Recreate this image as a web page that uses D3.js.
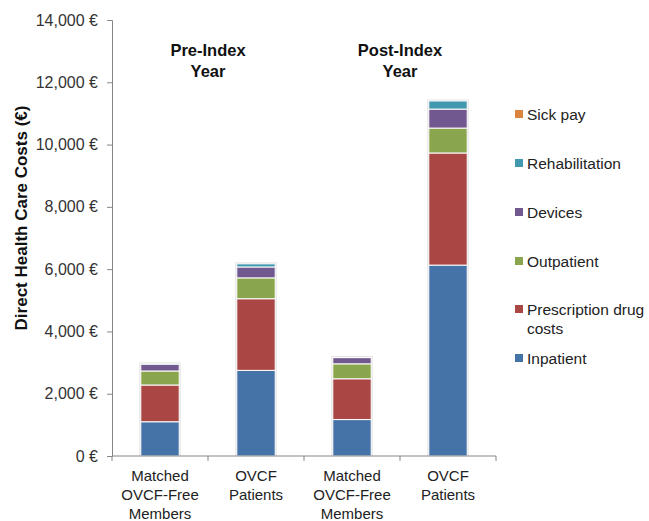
<!DOCTYPE html>
<html>
<head>
<meta charset="utf-8">
<script src="https://cdn.jsdelivr.net/npm/d3@7"></script>
<style>
  body { margin: 0; background: #fff; }
  svg { font-family: "Liberation Sans", Arial, sans-serif; }
</style>
</head>
<body>
<svg id="chart" width="649" height="521"></svg>
<script>
// categories (x axis), each label split into lines
const groups = ["g1", "g2", "g3", "g4"];
const groupLabels = [
  ["Matched", "OVCF-Free", "Members"],
  ["OVCF", "Patients"],
  ["Matched", "OVCF-Free", "Members"],
  ["OVCF", "Patients"]
];

// series, bottom to top
const seriesNames = ["Inpatient", "Prescription drug costs", "Outpatient", "Devices", "Rehabilitation", "Sick pay"];
const seriesColors = ["#4572A7", "#AA4643", "#89A54E", "#71588F", "#4198AF", "#DB843D"];

const inpatient    = [1100, 2750, 1170, 6130];
const prescription = [1180, 2300, 1310, 3600];
const outpatient   = [450, 670, 480, 800];
const devices      = [220, 350, 200, 610];
const rehab        = [10, 100, 5, 260];
const sickPay      = [0, 0, 0, 0];

const yTicks = [0, 2000, 4000, 6000, 8000, 10000, 12000, 14000];
const periodLabels = [["Pre-Index", "Year"], ["Post-Index", "Year"]];

const svg = d3.select("#chart");

const margin = {left: 112, right: 153, top: 20, bottom: 65};
const width = 649 - margin.left - margin.right,
      height = 521 - margin.top - margin.bottom;

const g = svg.append("g").attr("transform", `translate(${margin.left},${margin.top})`);

const x = d3.scaleBand().domain(groups).range([0, width]).paddingInner(0.6).paddingOuter(0.3);
const y = d3.scaleLinear().domain([0, 14000]).range([height, 0]);

// build table for the stack
const table = groups.map((k, i) => ({
  key: k,
  "Inpatient": inpatient[i],
  "Prescription drug costs": prescription[i],
  "Outpatient": outpatient[i],
  "Devices": devices[i],
  "Rehabilitation": rehab[i],
  "Sick pay": sickPay[i]
}));

const stacked = d3.stack().keys(seriesNames)(table);

// light shadow behind each bar
const totals = table.map(d => d3.sum(seriesNames, s => d[s]));
g.selectAll(".shadow")
  .data(groups)
  .join("rect")
  .attr("x", d => x(d) - 1.5)
  .attr("y", (d, i) => y(totals[i]) - 1.5)
  .attr("width", x.bandwidth() + 3)
  .attr("height", (d, i) => y(0) - y(totals[i]) + 1.5)
  .attr("fill", "#e4e4e4");

g.selectAll(".layer")
  .data(stacked)
  .join("g")
  .attr("fill", (d, i) => seriesColors[i])
  .selectAll("rect")
  .data(d => d.map((v, i) => ({v, k: groups[i]})))
  .join("rect")
  .filter(d => d.v[1] > d.v[0])
  .attr("x", d => x(d.k))
  .attr("y", d => y(d.v[1]))
  .attr("width", x.bandwidth())
  .attr("height", d => y(d.v[0]) - y(d.v[1]))
  .attr("stroke", "#fff")
  .attr("stroke-width", 1);

// y axis
const yAxis = g.append("g")
  .call(d3.axisLeft(y).tickValues(yTicks).tickSize(5).tickPadding(9)
    .tickFormat(d => d3.format(",")(d) + " €"));
yAxis.select(".domain").attr("stroke", "#868686");
yAxis.selectAll(".tick line").attr("stroke", "#868686");
yAxis.selectAll(".tick text").attr("fill", "#333").style("font-size", "16px");

// x axis
const xAxis = g.append("g").attr("transform", `translate(0,${height})`);
xAxis.append("line").attr("x1", 0).attr("x2", width).attr("stroke", "#868686");
xAxis.selectAll(".sep")
  .data(d3.range(groups.length + 1))
  .join("line")
  .attr("x1", i => i * width / groups.length)
  .attr("x2", i => i * width / groups.length)
  .attr("y1", 0).attr("y2", 5)
  .attr("stroke", "#868686");

xAxis.selectAll(".lbl")
  .data(groups)
  .join("text")
  .attr("text-anchor", "middle")
  .attr("fill", "#222")
  .style("font-size", "15px")
  .attr("transform", d => `translate(${x(d) + x.bandwidth() / 2},25)`)
  .each(function(d, i) {
    d3.select(this).selectAll("tspan")
      .data(groupLabels[i])
      .join("tspan")
      .attr("x", 0)
      .attr("y", (t, j) => j * 19)
      .text(t => t);
  });

// period labels
periodLabels.forEach((lines, p) => {
  const cx = (x(groups[p * 2]) + x(groups[p * 2 + 1]) + x.bandwidth()) / 2;
  g.append("text")
    .attr("text-anchor", "middle")
    .style("font-size", "16.5px")
    .style("font-weight", "bold")
    .attr("fill", "#111")
    .selectAll("tspan")
    .data(lines)
    .join("tspan")
    .attr("x", cx)
    .attr("y", (t, j) => 36 + j * 21)
    .text(t => t);
});

// y axis title
svg.append("text")
  .attr("transform", "translate(27,218) rotate(-90)")
  .attr("text-anchor", "middle")
  .style("font-size", "17px")
  .style("font-weight", "bold")
  .attr("fill", "#111")
  .text("Direct Health Care Costs (€)");

// legend, top to bottom reversed from stack
const legendY = [114, 163, 212, 261, 309, 358];
const legendItems = seriesNames.slice().reverse();
const legend = svg.append("g").attr("transform", "translate(515,0)");
legendItems.forEach((name, i) => {
  const col = seriesColors[seriesNames.length - 1 - i];
  const item = legend.append("g").attr("transform", `translate(0,${legendY[i]})`);
  item.append("rect").attr("x", 0).attr("y", -4).attr("width", 8).attr("height", 8).attr("fill", col);
  const txt = item.append("text").style("font-size", "15.5px").attr("fill", "#222");
  const parts = name === "Prescription drug costs" ? ["Prescription drug", "costs"] : [name];
  txt.selectAll("tspan").data(parts).join("tspan")
    .attr("x", 12).attr("y", (t, j) => 6 + j * 19)
    .text(t => t);
});
</script>
</body>
</html>
